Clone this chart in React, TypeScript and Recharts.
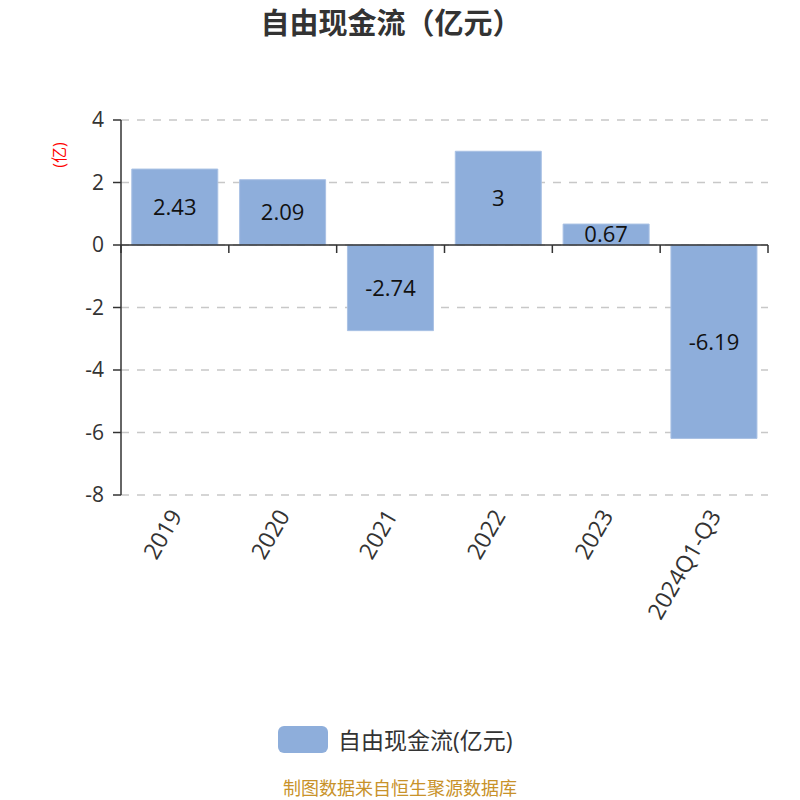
import { BarChart, Bar, XAxis, YAxis, CartesianGrid, ReferenceLine, LabelList } from "recharts";

const categories = ["2019", "2020", "2021", "2022", "2023", "2024Q1-Q3"];
const freeCashFlow = [2.43, 2.09, -2.74, 3, 0.67, -6.19];
const yTicks = [-8, -6, -4, -2, 0, 2, 4];

const SERIES_NAME = "自由现金流(亿元)";
const BAR_COLOR = "#8eaedb";
const FONT = "'Open Sans', 'Noto Sans CJK SC', sans-serif";

const data = categories.map((name, i) => ({ name, value: freeCashFlow[i] }));

// x axis line sits on zero, with tick marks on the category boundaries
function ZeroAxis(props: any) {
  const { x1, y1, x2 } = props;
  const step = (x2 - x1) / categories.length;
  return (
    <g>
      <line x1={x1} y1={y1} x2={x2} y2={y1} stroke="#333" strokeWidth={1.5} />
      {Array.from({ length: categories.length + 1 }, (_, i) => (
        <line key={i} x1={x1 + step * i} y1={y1} x2={x1 + step * i} y2={y1 + 8} stroke="#333" strokeWidth={1.5} />
      ))}
    </g>
  );
}

function XTick({ x, y, payload }: any) {
  return (
    <text
      x={x}
      y={y}
      transform={`rotate(-60, ${x}, ${y})`}
      textAnchor="end"
      dominantBaseline="central"
      fontSize={23}
      fill="#333"
      fontFamily={FONT}
    >
      {payload.value}
    </text>
  );
}

export default function App() {
  return (
    <div style={{ position: "absolute", left: 0, top: 0, width: 800, height: 800, background: "#fff", fontFamily: FONT, overflow: "hidden" }}>
      <div style={{ position: "absolute", top: 5, width: 782, textAlign: "center", fontSize: 29, lineHeight: "36px", fontWeight: "bold", color: "#333" }}>
        自由现金流（亿元）
      </div>
      <BarChart
        width={800}
        height={800}
        data={data}
        margin={{ top: 120, right: 32, bottom: 155, left: 61 }}
        barCategoryGap="10%"
      >
        <CartesianGrid vertical={false} stroke="#c8c8c8" strokeWidth={1.5} strokeDasharray="8 8" />
        <XAxis
          dataKey="name"
          height={150}
          axisLine={false}
          tickLine={false}
          interval={0}
          tick={<XTick />}
          tickMargin={10}
        />
        <YAxis
          width={60}
          domain={[-8, 4]}
          ticks={yTicks}
          interval={0}
          axisLine={{ stroke: "#333", strokeWidth: 1.5 }}
          tickLine={{ stroke: "#333", strokeWidth: 1.5 }}
          tickSize={8}
          tickMargin={9}
          tick={{ fontSize: 21, fill: "#333", fontFamily: FONT }}
          label={{
            content: ({ viewBox }: any) => (
              <text
                x={viewBox.x - 2}
                y={viewBox.y + 35}
                transform={`rotate(-90, ${viewBox.x - 2}, ${viewBox.y + 35})`}
                textAnchor="middle"
                dominantBaseline="central"
                fontSize={16}
                fill="red"
                fontFamily={FONT}
              >
                (亿)
              </text>
            ),
          }}
        />
        <Bar dataKey="value" name={SERIES_NAME} fill={BAR_COLOR} stroke="#a9c1e4" strokeWidth={1} isAnimationActive={false}>
          <LabelList dataKey="value" position="center" fontSize={22} fill="#111" fontFamily={FONT} />
        </Bar>
        <ReferenceLine y={0} shape={<ZeroAxis />} />
      </BarChart>
      <div style={{ position: "absolute", top: 722, left: 278, display: "flex", alignItems: "center" }}>
        <div style={{ width: 50, height: 27, borderRadius: 6, background: BAR_COLOR }} />
        <span style={{ marginLeft: 10, fontSize: 23, color: "#333" }}>{SERIES_NAME}</span>
      </div>
      <div style={{ position: "absolute", top: 778, width: 800, textAlign: "center", fontSize: 18, lineHeight: "20px", color: "#c8922a" }}>
        制图数据来自恒生聚源数据库
      </div>
    </div>
  );
}
